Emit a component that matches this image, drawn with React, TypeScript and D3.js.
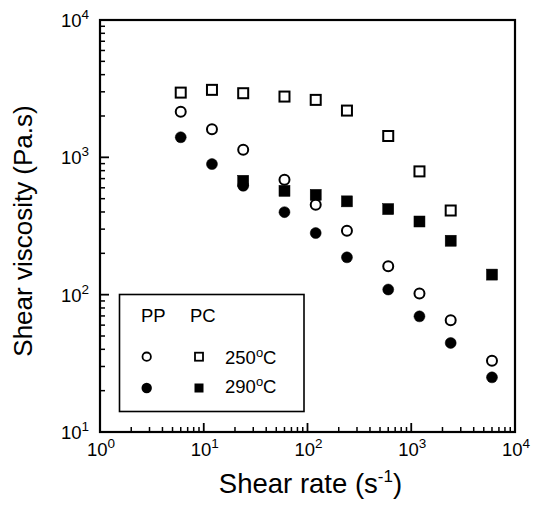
import React from "react";
import * as d3 from "d3";

const shearRates = [6, 12, 24, 60, 120, 240, 600, 1200, 2400, 6000];
const pp250 = [2150, 1600, 1135, 686, 452, 292, 161, 102, 65, 33];
const pp290 = [1400, 893, 621, 399, 281, 187, 109, 69.5, 44.5, 25];
const pc250 = [2960, 3100, 2930, 2770, 2620, 2190, 1430, 790, 410, null];
const pc290 = [null, null, 675, 570, 533, 478, 420, 341, 247, 140];
const xDecades = [0, 1, 2, 3, 4];
const yDecades = [1, 2, 3, 4];

const W = 545, H = 514;
const L = 100, R = 515, T = 20, B = 432;
const FONT = "'Liberation Sans', Arial, Helvetica, sans-serif";

export default function App() {
  const x = d3.scaleLog().domain([1, 1e4]).range([L, R]);
  const y = d3.scaleLog().domain([10, 1e4]).range([B, T]);

  const xMinor: number[] = [];
  for (let d = 0; d < 4; d++) for (let k = 2; k <= 9; k++) xMinor.push(k * Math.pow(10, d));
  const yMinor: number[] = [];
  for (let d = 1; d < 4; d++) for (let k = 2; k <= 9; k++) yMinor.push(k * Math.pow(10, d));

  const circ = (vals: (number | null)[], filled: boolean, key: string) =>
    shearRates.map((s, i) =>
      vals[i] == null ? null : (
        <circle key={key + i} cx={x(s)} cy={y(vals[i] as number)} r={filled ? 5.5 : 5}
          fill={filled ? "#000" : "#fff"} stroke="#000" strokeWidth={filled ? 0.5 : 2} />
      )
    );
  const sq = (vals: (number | null)[], filled: boolean, key: string) =>
    shearRates.map((s, i) =>
      vals[i] == null ? null : (
        <rect key={key + i} x={x(s) - (filled ? 5.5 : 5)} y={y(vals[i] as number) - (filled ? 5.5 : 5)}
          width={filled ? 11 : 10} height={filled ? 11 : 10}
          fill={filled ? "#000" : "#fff"} stroke="#000" strokeWidth={filled ? 0.5 : 2} />
      )
    );

  return (
    <svg width={W} height={H} style={{ position: "absolute", left: 0, top: 0, background: "#fff" }}
      fontFamily={FONT}>
      <rect x={0} y={0} width={W} height={H} fill="#fff" />
      {/* ticks */}
      {xMinor.map((v, i) => (
        <line key={"xm" + i} x1={x(v)} x2={x(v)} y1={B} y2={B - 5} stroke="#000" strokeWidth={1.5} />
      ))}
      {xDecades.map((d) => (
        <line key={"xM" + d} x1={x(Math.pow(10, d))} x2={x(Math.pow(10, d))} y1={B} y2={B - 9} stroke="#000" strokeWidth={1.8} />
      ))}
      {yMinor.map((v, i) => (
        <line key={"ym" + i} x1={L} x2={L + 5} y1={y(v)} y2={y(v)} stroke="#000" strokeWidth={1.5} />
      ))}
      {yDecades.map((d) => (
        <line key={"yM" + d} x1={L} x2={L + 9} y1={y(Math.pow(10, d))} y2={y(Math.pow(10, d))} stroke="#000" strokeWidth={1.8} />
      ))}
      <rect x={L} y={T} width={R - L} height={B - T} fill="none" stroke="#000" strokeWidth={2.2} />

      {/* tick labels */}
      {xDecades.map((d) => (
        <text key={"xl" + d} x={x(Math.pow(10, d)) + 1} y={456} fontSize={18.5} textAnchor="middle" fill="#000">
          10<tspan dy={-8} fontSize={13.5}>{d}</tspan>
        </text>
      ))}
      {yDecades.map((d) => (
        <text key={"yl" + d} x={89} y={y(Math.pow(10, d)) + 7} fontSize={18.5} textAnchor="end" fill="#000">
          10<tspan dy={-8} fontSize={13.5}>{d}</tspan>
        </text>
      ))}

      {/* axis titles */}
      <text x={(L + R) / 2 + 3} y={493} fontSize={27.5} textAnchor="middle" fill="#000">
        Shear rate (s<tspan dy={-11} fontSize={17}>-1</tspan><tspan dy={11}>)</tspan>
      </text>
      <text transform={`translate(32,${231}) rotate(-90)`} fontSize={26} textAnchor="middle" fill="#000">
        Shear viscosity (Pa.s)
      </text>

      {/* data */}
      {sq(pc250, false, "pc250")}
      {sq(pc290, true, "pc290")}
      {circ(pp250, false, "pp250")}
      {circ(pp290, true, "pp290")}

      {/* legend */}
      <rect x={119.5} y={294.5} width={184.5} height={117} fill="#fff" stroke="#000" strokeWidth={1.6} />
      <text x={141} y={321.7} fontSize={18.5} fill="#000">PP</text>
      <text x={190} y={321.7} fontSize={18.5} fill="#000">PC</text>
      <circle cx={146.7} cy={356.7} r={4.2} fill="#fff" stroke="#000" strokeWidth={1.8} />
      <rect x={195} y={352.7} width={8} height={8} fill="#fff" stroke="#000" strokeWidth={1.8} />
      <text x={225} y={364} fontSize={18.5} fill="#000">250<tspan dy={-7} fontSize={13}>o</tspan><tspan dy={7}>C</tspan></text>
      <circle cx={146.7} cy={388} r={5.2} fill="#000" />
      <rect x={194.5} y={383.5} width={9} height={9} fill="#000" />
      <text x={225} y={393.3} fontSize={18.5} fill="#000">290<tspan dy={-7} fontSize={13}>o</tspan><tspan dy={7}>C</tspan></text>
    </svg>
  );
}
